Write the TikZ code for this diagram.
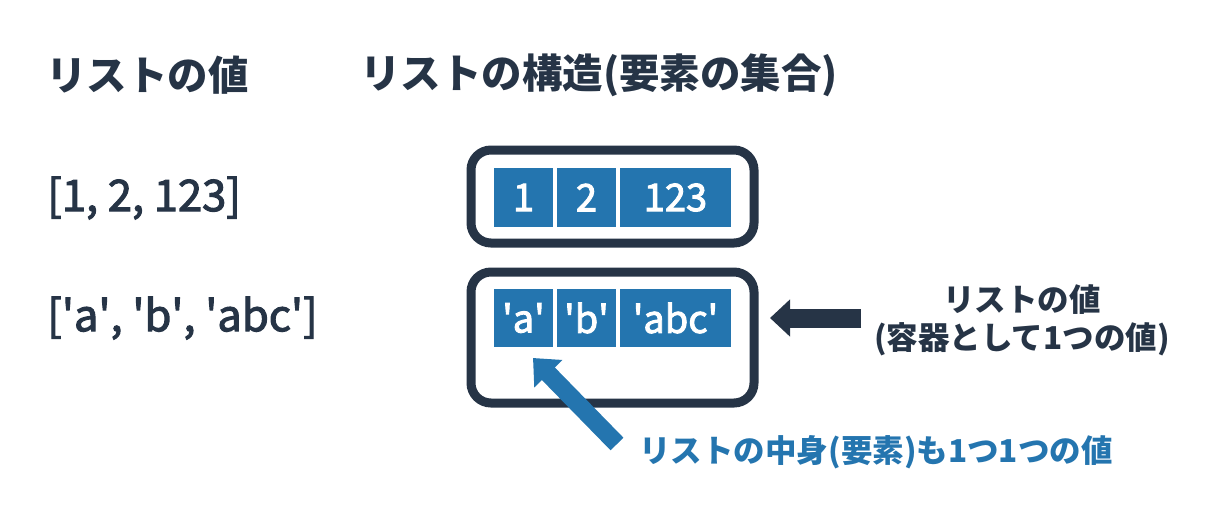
\documentclass[tikz,border=0pt]{standalone}
\usepackage{fontspec}
\setmainfont{Noto Sans CJK JP}
\newfontfamily\medfont[FakeBold=2.5]{Noto Sans CJK JP}
\newcommand\sq{\textquotesingle}
\usetikzlibrary{arrows.meta}
\definecolor{navy}{RGB}{38,52,70}
\definecolor{cellblue}{RGB}{36,117,175}
\tikzset{
  head/.style={anchor=west,text=navy,font=\fontsize{40.5}{44}\selectfont\bfseries,inner sep=0},
  lit/.style={anchor=west,text=navy,font=\fontsize{43.5}{48}\medfont,inner sep=0},
  cell/.style={fill=cellblue,text=white,font=\fontsize{38}{42}\medfont,inner sep=0,minimum height=59},
  frame/.style={draw=navy,line width=9,rounded corners=20,minimum width=283},
}
\begin{document}
\begin{tikzpicture}[x=1pt,y=-1pt]
\useasboundingbox (0,0) rectangle (1210,520);
\node[head] (h1) at (46,75) {リストの値};
\node[head] (h2) at (360,75) {リストの構造(要素の集合)};
\node[lit] (l1) at (47,198) {[1, 2, 123]};
\node[lit] (l2) at (47,318) {[\sq a\sq, \sq b\sq, \sq abc\sq]};
\node[frame,minimum height=93] (f1) at (612.5,196.5) {};
\node[frame,minimum height=131] (f2) at (612.5,337.5) {};
\node[cell,minimum width=59] (a1) at (523.5,197.5) {1};
\node[cell,minimum width=59] (a2) at (586.5,197.5) {2};
\node[cell,minimum width=111] (a3) at (675.5,197.5) {123};
\node[cell,minimum width=59,minimum height=58] (b1) at (523.5,318) {\sq a\sq};
\node[cell,minimum width=59,minimum height=58] (b2) at (586.5,318) {\sq b\sq};
\node[cell,minimum width=111,minimum height=58] (b3) at (675.5,318) {\sq abc\sq};
\node[text=navy,font=\fontsize{31.5}{38}\selectfont\bfseries,align=center,inner sep=0] (rl) at (1022,320) {リストの値\\(容器として1つの値)};
\node[text=cellblue,font=\fontsize{31.5}{38}\selectfont\bfseries,inner sep=0] (bl) at (876,452) {リストの中身(要素)も1つ1つの値};
\coordinate (dt) at (861,318);
\coordinate (dh) at (770,318);
\draw[navy,line width=19,-{Triangle[length=20,width=36]}] (dt) -- (dh);
\coordinate (bt) at (617,444);
\coordinate (bh) at (533,358);
\draw[cellblue,line width=18,-{Triangle[length=22,width=38]}] (bt) -- (bh);
\end{tikzpicture}
\end{document}
